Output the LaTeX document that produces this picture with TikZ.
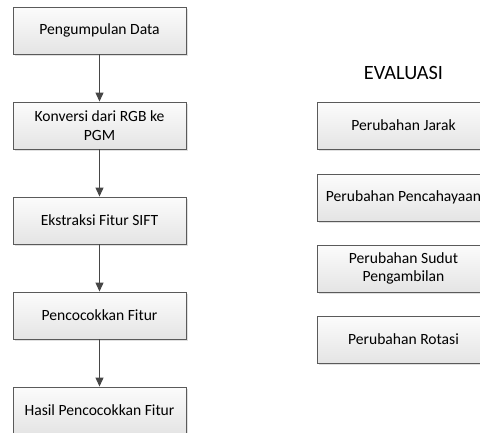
\documentclass[tikz,border=0pt]{standalone}
\usepackage{fontspec}
\setmainfont{Carlito}
\usetikzlibrary{arrows.meta,shadows}
\definecolor{boxline}{RGB}{90,90,90}
\definecolor{boxtop}{RGB}{252,252,252}
\definecolor{boxbot}{RGB}{228,228,228}
\definecolor{arrowcol}{RGB}{70,70,70}
\tikzset{
  procbox/.style={draw=boxline, line width=0.9pt, top color=boxtop, bottom color=boxbot,
    minimum width=173pt, minimum height=47pt, align=center, inner sep=2pt,
    font=\fontsize{15.6}{18.5}\selectfont,
    drop shadow={shadow xshift=2pt, shadow yshift=-2pt, fill=black!12, opacity=1}},
  flowarrow/.style={draw=arrowcol, line width=1.1pt, -{Triangle[length=9pt,width=8pt]}}
}
\begin{document}
\begin{tikzpicture}[x=1pt,y=-1pt]
\useasboundingbox (0,0) rectangle (480,432);
\clip (0,0) rectangle (480,432);
\node[procbox] (a) at (99.5,30.5) {Pengumpulan Data};
\node[procbox] (b) at (99.5,125.5) {Konversi dari RGB ke\\PGM};
\node[procbox] (c) at (99.5,220.5) {Ekstraksi Fitur SIFT};
\node[procbox] (d) at (99.5,315.5) {Pencocokkan Fitur};
\node[procbox] (e) at (99.5,410.5) {Hasil Pencocokkan Fitur};
\draw[flowarrow] (a) -- (b);
\draw[flowarrow] (b) -- (c);
\draw[flowarrow] (c) -- (d);
\draw[flowarrow] (d) -- (e);
\node[font=\fontsize{20.3}{24}\selectfont] (ev) at (403.5,73) {EVALUASI};
\node[procbox] (r1) at (403.5,125.5) {Perubahan Jarak};
\node[procbox] (r2) at (403.5,197.5) {Perubahan Pencahayaan};
\node[procbox] (r3) at (403.5,268.5) {Perubahan Sudut\\Pengambilan};
\node[procbox] (r4) at (403.5,339.5) {Perubahan Rotasi};
\end{tikzpicture}
\end{document}
